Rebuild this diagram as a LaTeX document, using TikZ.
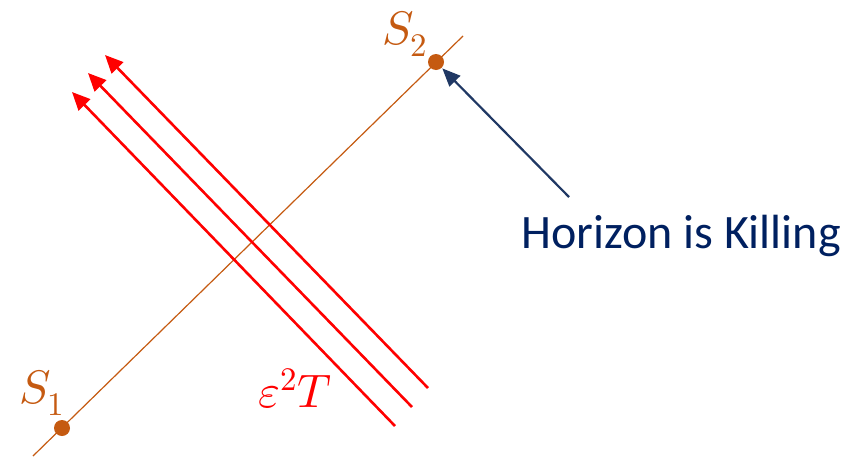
\documentclass[tikz,border=0pt]{standalone}
\usepackage{fontspec}
\usepackage{unicode-math}
\setmathfont{Latin Modern Math}
\newfontfamily\calib{Carlito}
\usetikzlibrary{arrows.meta}
\definecolor{orng}{HTML}{C55A11}
\definecolor{navy}{HTML}{002060}
\definecolor{navyline}{HTML}{203864}
\tikzset{
  dot/.style={circle,fill=orng,inner sep=0pt,minimum size=16pt},
  lbl/.style={text=orng,font=\fontsize{47}{50}\selectfont,inner sep=0pt},
  ray/.style={red,line width=2.6pt,-{Triangle[length=18pt,width=16pt]}},
  pointer/.style={navyline,line width=2.2pt,-{Triangle[length=18pt,width=15pt]}}
}
\begin{document}
\begin{tikzpicture}[x=1pt,y=-1pt]
\useasboundingbox (0,0) rectangle (861,458);
% orange line
\coordinate (ob) at (33,456);
\coordinate (ot) at (463,36);
\draw[orng,line width=1.2pt] (ob) -- (ot);
\node[dot] (s1) at (62,428) {};
\node[dot] (s2) at (436,62) {};
\node[lbl] (l1) at (42,393) {$S_1$};
\node[lbl] (l2) at (405,34) {$S_2$};
% red rays
\coordinate (b1) at (428,388);
\coordinate (t1) at (105,55);
\coordinate (b2) at (412,407);
\coordinate (t2) at (88,73);
\coordinate (b3) at (395,426);
\coordinate (t3) at (72,92);
\draw[ray] (b1) -- (t1);
\draw[ray] (b2) -- (t2);
\draw[ray] (b3) -- (t3);
\node[text=red,font=\fontsize{47}{50}\selectfont,inner sep=0pt] (eps) at (295,389) {$\varepsilon^2 T$};
% horizon
\node[text=navy,font=\calib\fontsize{48}{52}\selectfont,inner sep=0pt,anchor=west] (hk) at (521,236) {Horizon is Killing};
\coordinate (ps) at (569,197);
\draw[pointer,shorten >=9pt] (ps) -- (s2.center);
\end{tikzpicture}
\end{document}
